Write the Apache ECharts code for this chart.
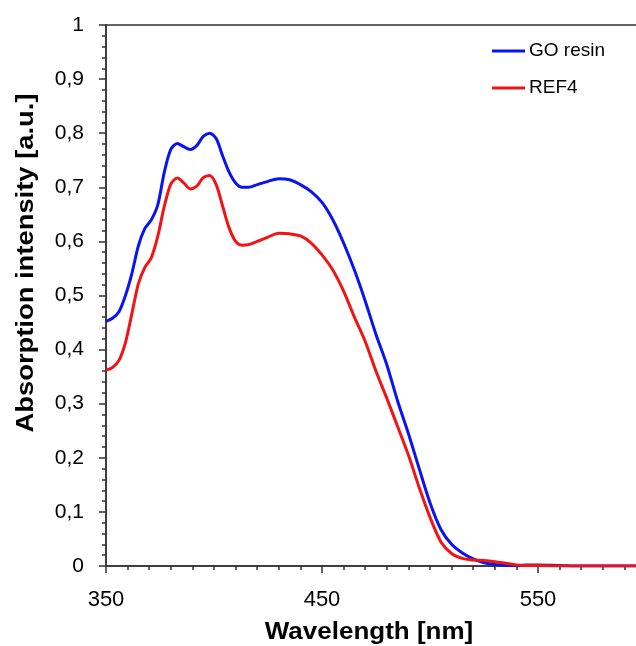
<!DOCTYPE html>
<html>
<head>
<meta charset="utf-8">
<script src="https://cdn.jsdelivr.net/npm/echarts@6/dist/echarts.min.js"></script>
<style>
    html, body { margin: 0; padding: 0; background: #fff; }
    #chart { width: 636px; height: 646px; }
</style>
</head>
<body>
<div id="chart"></div>
<script>
// wavelength [nm]
var wavelengths = [350, 353, 356, 359, 362, 365, 368, 371, 374, 377, 380, 383, 386, 389, 392, 395, 398, 401, 404, 407,
    410, 413, 416, 420, 425, 430, 435, 440, 445, 450, 455, 460, 465, 470, 475, 480, 485, 490, 495, 500,
    505, 510, 515, 520, 525, 530, 535, 540, 545, 550, 560, 570, 580, 590, 600];

// GO resin
var goResin = [0.452, 0.458, 0.470, 0.500, 0.541, 0.592, 0.624, 0.640, 0.668, 0.728, 0.770, 0.781, 0.775, 0.770, 0.777, 0.794, 0.800, 0.790, 0.758, 0.728,
    0.708, 0.700, 0.700, 0.705, 0.711, 0.716, 0.714, 0.705, 0.692, 0.672, 0.640, 0.597, 0.547, 0.490, 0.428, 0.372, 0.305, 0.245, 0.180, 0.117,
    0.068, 0.040, 0.024, 0.013, 0.006, 0.003, 0.001, 0.001, 0.002, 0.002, 0.001, 0, 0, 0, 0];

// REF4
var ref4 = [0.362, 0.367, 0.380, 0.413, 0.467, 0.522, 0.552, 0.570, 0.610, 0.665, 0.706, 0.717, 0.708, 0.697, 0.702, 0.718, 0.722, 0.705, 0.665, 0.625,
    0.600, 0.593, 0.594, 0.600, 0.608, 0.615, 0.614, 0.610, 0.597, 0.575, 0.547, 0.508, 0.460, 0.415, 0.360, 0.310, 0.258, 0.205, 0.145, 0.090,
    0.045, 0.023, 0.014, 0.011, 0.010, 0.008, 0.005, 0.002, 0.001, 0.001, 0, 0, 0, 0, 0];

var xLabels = [350, 450, 550];

function pairs(ys) {
    return wavelengths.map(function (x, i) { return [x, ys[i]]; });
}

var font = '"Liberation Sans", Arial, sans-serif';
var chart = echarts.init(document.getElementById('chart'), null, { renderer: 'canvas' });

chart.setOption({
    backgroundColor: '#fff',
    animation: false,
    grid: {
        left: 106,
        top: 25,
        width: 648,
        height: 541,
        containLabel: false,
        outerBoundsMode: 'none',
        show: true,
        borderColor: '#333',
        borderWidth: 1.5
    },
    legend: {
        data: ['GO resin', 'REF4'],
        orient: 'vertical',
        left: 487,
        top: 36,
        icon: 'rect',
        itemWidth: 33,
        itemHeight: 3,
        itemGap: 17,
        textStyle: { fontFamily: font, fontSize: 19, color: '#000', lineHeight: 20, padding: [0, 0, 0, -1] }
    },
    xAxis: {
        type: 'value',
        min: 350,
        max: 650,
        interval: 100,
        axisLine: { lineStyle: { color: '#333', width: 1.5 } },
        axisTick: { length: 7, lineStyle: { color: '#333', width: 1.5 } },
        minorTick: { show: true, splitNumber: 10, length: 4, lineStyle: { color: '#333', width: 1.5 } },
        splitLine: { show: false },
        axisLabel: {
            margin: 23,
            color: '#000',
            fontFamily: font,
            fontSize: 22,
            formatter: function (v) {
                return xLabels.indexOf(v) >= 0 ? String(v) : '';
            }
        }
    },
    yAxis: {
        type: 'value',
        min: 0,
        max: 1,
        interval: 0.1,
        axisLine: { show: true, lineStyle: { color: '#333', width: 1.5 } },
        axisTick: { show: true, length: 7, lineStyle: { color: '#333', width: 1.5 } },
        minorTick: { show: true, splitNumber: 5, length: 4, lineStyle: { color: '#333', width: 1.5 } },
        splitLine: { show: false },
        axisLabel: {
            margin: 22,
            color: '#000',
            fontFamily: font,
            fontSize: 21,
            formatter: function (v) {
                return String(Math.round(v * 10) / 10).replace('.', ',');
            }
        }
    },
    graphic: [
        {
            type: 'text',
            x: 369,
            y: 633,
            scaleX: 1.13,
            style: {
                text: 'Wavelength [nm]',
                font: 'bold 23px ' + font,
                fill: '#000',
                textAlign: 'center',
                textVerticalAlign: 'middle'
            }
        },
        {
            type: 'text',
            x: 27,
            y: 263,
            rotation: Math.PI / 2,
            scaleX: 1.19,
            style: {
                text: 'Absorption intensity [a.u.]',
                font: 'bold 23px ' + font,
                fill: '#000',
                textAlign: 'center',
                textVerticalAlign: 'middle'
            }
        }
    ],
    series: [
        {
            name: 'GO resin',
            type: 'line',
            data: pairs(goResin),
            symbol: 'none',
            smooth: 0.3,
            color: '#0a14f0',
            lineStyle: { width: 3, color: '#0a14f0' }
        },
        {
            name: 'REF4',
            type: 'line',
            data: pairs(ref4),
            symbol: 'none',
            smooth: 0.3,
            color: '#f01414',
            lineStyle: { width: 3, color: '#f01414' }
        }
    ]
});
</script>
</body>
</html>
